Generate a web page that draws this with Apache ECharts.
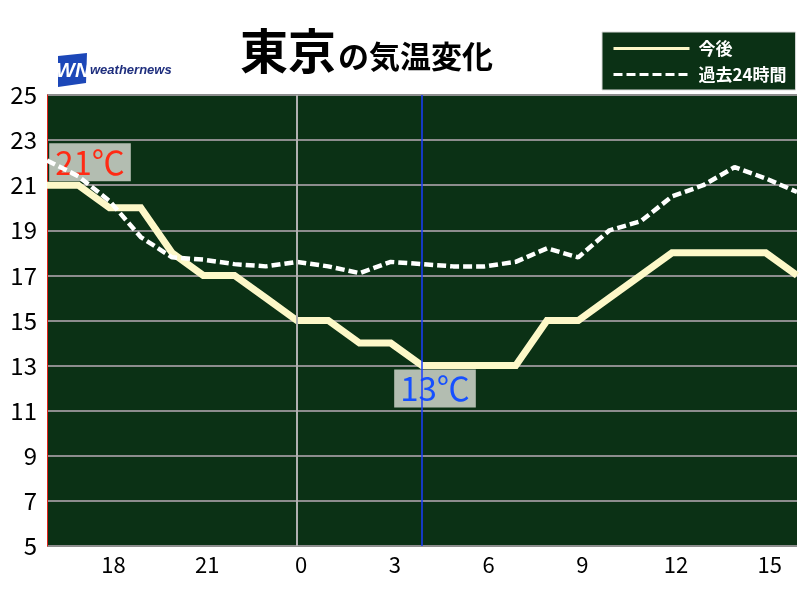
<!DOCTYPE html>
<html>
<head>
<meta charset="utf-8">
<script src="https://cdn.jsdelivr.net/npm/echarts@6/dist/echarts.min.js"></script>
<style>
  html, body { margin: 0; padding: 0; background: #fff; }
  #chart { width: 800px; height: 600px; }
</style>
</head>
<body>
<div id="chart"></div>
<script>
// hours from 16:00 to 16:00 next day
const hours = ['16','17','18','19','20','21','22','23','0','1','2','3','4','5','6','7','8','9','10','11','12','13','14','15','16'];
// 今後 (forecast)
const forecast = [21,21,20,20,18,17,17,16,15,15,14,14,13,13,13,13,15,15,16,17,18,18,18,18,17];
// 過去24時間 (past 24 hours)
const past = [22.1,21.4,20.3,18.7,17.8,17.7,17.5,17.4,17.6,17.4,17.1,17.6,17.5,17.4,17.4,17.6,18.2,17.8,19.0,19.4,20.5,21.0,21.8,21.3,20.7];
const yTicks = [5,7,9,11,13,15,17,19,21,23,25];

const font = '"Noto Sans CJK JP", sans-serif';
const maxIdx = 0;   // 21℃ label
const minIdx = 12;  // 13℃ label

const chart = echarts.init(document.getElementById('chart'));

function tempLabel(pos, dx, color) {
  return {
    show: true, position: pos, distance: 4, offset: [dx, 0],
    formatter: '{c}℃', color: color, fontSize: 33, fontFamily: font,
    backgroundColor: '#b3bdb1', padding: [0, 6], lineHeight: 38
  };
}

const forecastData = forecast.map((v, i) => {
  if (i === maxIdx) return { value: v, label: tempLabel('top', 43, '#ff2a14') };
  if (i === minIdx) return { value: v, label: tempLabel('bottom', 13, '#1650ff') };
  return v;
});

const option = {
  animation: false,
  title: {
    text: '{a|東京}{b|の気温変化}',
    left: 235,
    top: 22,
    textStyle: {
      rich: {
        a: { fontSize: 48, fontWeight: 'bold', color: '#000', fontFamily: font },
        b: { fontSize: 31, color: '#000', fontFamily: font, padding: [10, 0, 0, 2] }
      }
    }
  },
  legend: {
    orient: 'vertical',
    left: 602,
    top: 32,
    backgroundColor: '#0b3115',
    borderColor: '#d8d8d8',
    borderWidth: 1,
    borderRadius: 0,
    padding: [8, 9, 7, 10],
    itemGap: 9,
    itemWidth: 76,
    itemHeight: 14,
    lineStyle: { width: 3 },
    itemStyle: { opacity: 0 },
    textStyle: { color: '#fff', fontSize: 17, fontFamily: font, fontWeight: 'bold', padding: [0, 0, 0, 4] },
    data: ['今後', '過去24時間']
  },
  graphic: [
    {
      type: 'polygon',
      shape: { points: [[58, 56], [87, 53], [86, 83], [58, 87]] },
      style: { fill: '#1c47b8' }
    },
    {
      type: 'text',
      left: 56, top: 61,
      style: { text: 'WN', fill: '#fff', font: 'italic bold 20px "Liberation Sans", sans-serif' }
    },
    {
      type: 'text',
      left: 90, top: 64,
      style: { text: 'weathernews', fill: '#1f2f7e', font: 'italic bold 13px "Liberation Sans", sans-serif' }
    }
  ],
  grid: {
    left: 47, right: 3, top: 95, bottom: 54,
    show: true, backgroundColor: '#0b3115', borderWidth: 0
  },
  xAxis: {
    type: 'category',
    data: hours,
    boundaryGap: false,
    axisLine: { show: false },
    axisTick: { show: false },
    splitLine: { show: false },
    axisLabel: {
      interval: (i, v) => Number(v) % 3 === 0 && i < hours.length - 1,
      color: '#000', fontSize: 22, fontFamily: font, margin: 8,
      padding: [0, 0, 0, 8]
    }
  },
  yAxis: {
    type: 'value',
    min: yTicks[0],
    max: yTicks[yTicks.length - 1],
    interval: 2,
    axisLine: { show: true, lineStyle: { color: '#e0231a', width: 1 } },
    axisTick: { show: false },
    splitLine: { show: true, lineStyle: { color: '#8d8d8d', width: 2 } },
    axisLabel: { color: '#000', fontSize: 24, fontFamily: font, margin: 10 }
  },
  series: [
    {
      name: '今後',
      type: 'line',
      data: forecastData,
      symbol: 'circle',
      symbolSize: 0,
      showSymbol: true,
      lineStyle: { color: '#fdf8c8', width: 7, join: 'miter' },
      itemStyle: { color: '#fdf8c8' },
      markLine: {
        silent: true,
        symbol: 'none',
        label: { show: false },
        data: [
          { xAxis: '0', lineStyle: { color: '#b0b0b0', width: 2, type: 'solid' } },
          { xAxis: '4', lineStyle: { color: '#1a3cff', width: 1.5, type: 'solid' } }
        ]
      },
      z: 2
    },
    {
      name: '過去24時間',
      type: 'line',
      data: past,
      showSymbol: false,
      symbol: 'none',
      lineStyle: { color: '#ffffff', width: 4.5, type: [9, 4] },
      itemStyle: { color: '#ffffff' },
      z: 3
    }
  ]
};

chart.setOption(option);
</script>
</body>
</html>
